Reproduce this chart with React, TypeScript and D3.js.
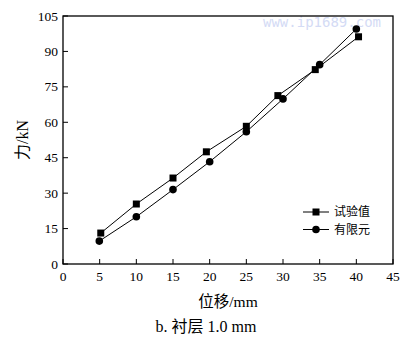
import React from "react";
import * as d3 from "d3";

const xTicks = [0, 5, 10, 15, 20, 25, 30, 35, 40, 45];
const yTicks = [0, 15, 30, 45, 60, 75, 90, 105];

// 试验值 (squares)
const testX = [5.15, 10, 15, 19.55, 25, 29.3, 34.4, 40.3];
const testY = [13.1, 25.4, 36.4, 47.5, 58.3, 71.3, 82.3, 96.2];
// 有限元 (circles)
const feX = [4.95, 10, 15, 20, 25, 30, 35, 40];
const feY = [9.7, 20.0, 31.5, 43.3, 56.0, 69.9, 84.4, 99.5];

const legendNames = ["试验值", "有限元"];

const W = 412;
const H = 341;
const margin = { top: 16, right: 19, bottom: 77, left: 63 };
const serif = "'Liberation Serif', 'Times New Roman', serif";
const cjk = "'Noto Sans CJK SC', sans-serif";

export default function App() {
  const x = d3.scaleLinear().domain([0, 45]).range([margin.left, W - margin.right]);
  const y = d3.scaleLinear().domain([0, 105]).range([H - margin.bottom, margin.top]);

  const line = d3
    .line<[number, number]>()
    .x((d) => x(d[0]))
    .y((d) => y(d[1]));

  const testPts = testX.map((v, i) => [v, testY[i]] as [number, number]);
  const fePts = feX.map((v, i) => [v, feY[i]] as [number, number]);

  const x0 = x(0), x1 = x(45), y0 = y(0), y1 = y(105);

  return (
    <svg
      width={W}
      height={H}
      style={{ position: "absolute", left: 0, top: 0, background: "#fff" }}
    >
      {/* watermark */}
      <text x={263} y={27} fontFamily="'DejaVu Sans Mono', monospace" fontSize={14} fill="#d4dbf5">
        www.ip1689.com
      </text>

      {/* frame */}
      <rect x={x0} y={y1} width={x1 - x0} height={y0 - y1} fill="none" stroke="#000" strokeWidth={1.3} />

      {/* x ticks */}
      {xTicks.map((t) => (
        <g key={"x" + t}>
          <line x1={x(t)} x2={x(t)} y1={y0} y2={y0 - 5} stroke="#000" strokeWidth={1} />
          <text x={x(t)} y={y0 + 17} textAnchor="middle" fontFamily={serif} fontSize={13.5}>
            {t}
          </text>
        </g>
      ))}

      {/* y ticks */}
      {yTicks.map((t) => (
        <g key={"y" + t}>
          <line x1={x0} x2={x0 + 5} y1={y(t)} y2={y(t)} stroke="#000" strokeWidth={1} />
          <text x={x0 - 5} y={y(t) + 4.5} textAnchor="end" fontFamily={serif} fontSize={13.5}>
            {t}
          </text>
        </g>
      ))}

      {/* lines */}
      <path d={line(testPts) ?? ""} fill="none" stroke="#000" strokeWidth={1} />
      <path d={line(fePts) ?? ""} fill="none" stroke="#000" strokeWidth={1} />

      {testPts.map((p, i) => (
        <rect key={"s" + i} x={x(p[0]) - 3.5} y={y(p[1]) - 3.5} width={7} height={7} fill="#000" />
      ))}
      {fePts.map((p, i) => (
        <circle key={"c" + i} cx={x(p[0])} cy={y(p[1])} r={3.8} fill="#000" />
      ))}

      {/* legend */}
      {legendNames.map((name, i) => {
        const ly = 212 + i * 17.5;
        return (
          <g key={name}>
            <line x1={303} x2={329} y1={ly} y2={ly} stroke="#000" strokeWidth={1} />
            {i === 0 ? (
              <rect x={312.5} y={ly - 3.5} width={7} height={7} fill="#000" />
            ) : (
              <circle cx={316} cy={ly} r={3.8} fill="#000" />
            )}
            <text x={334} y={ly + 4.3} fontFamily={cjk} fontSize={12}>
              {name}
            </text>
          </g>
        );
      })}

      {/* axis titles */}
      <text
        transform={`translate(28, ${(y0 + y1) / 2}) rotate(-90)`}
        textAnchor="middle"
        fontSize={16}
      >
        <tspan fontFamily={cjk}>力</tspan>
        <tspan fontFamily={serif}>/kN</tspan>
      </text>
      <text x={228} y={307} textAnchor="middle" fontSize={15.5}>
        <tspan fontFamily={cjk}>位移</tspan>
        <tspan fontFamily={serif}>/mm</tspan>
      </text>

      {/* caption */}
      <text x={206} y={332} textAnchor="middle" fontSize={16}>
        <tspan fontFamily={serif}>b. </tspan>
        <tspan fontFamily={cjk}>衬层</tspan>
        <tspan fontFamily={serif}> 1.0 mm</tspan>
      </text>
    </svg>
  );
}
